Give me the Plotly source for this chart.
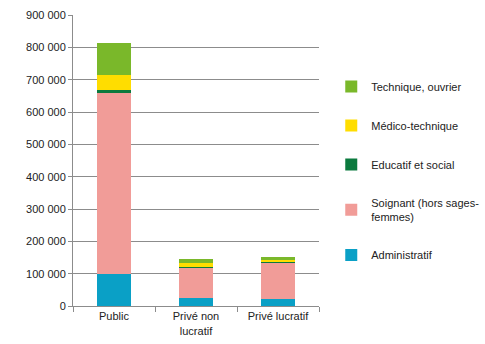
import plotly.graph_objects as go

categories = ["Public", "Privé non<br>lucratif", "Privé lucratif"]
administratif = [100000, 24000, 22000]
soignant = [558000, 94000, 113000]
educatif = [11000, 4000, 2000]
medico = [44000, 10000, 6000]
technique = [99000, 12000, 8000]

series = [
    ("Administratif", administratif, "#0aa0c6"),
    ("Soignant (hors sages-<br>femmes)", soignant, "#f19c98"),
    ("Educatif et social", educatif, "#0b7a3e"),
    ("Médico-technique", medico, "#ffdd00"),
    ("Technique, ouvrier", technique, "#7ab82a"),
]

fig = go.Figure()
for i, (name, vals, col) in enumerate(series):
    fig.add_trace(go.Bar(x=categories, y=vals, name=name, marker_color=col,
                         marker_line_width=0, legendgroup=str(i),
                         legendrank=100 - i))

tickvals = list(range(0, 900001, 100000))
ticktext = ["0"] + [f"{v//1000} 000" for v in tickvals[1:]]

fig.update_layout(
    width=485, height=344,
    barmode="stack", bargap=0.58,
    plot_bgcolor="white", paper_bgcolor="white",
    margin=dict(l=73, r=166, t=15, b=38),
    font=dict(family="Liberation Sans", size=11, color="#222"),
    legend=dict(xref="container", yref="container", x=0.683, y=1 - 72 / 344,
                xanchor="left", yanchor="top", maxheight=320,
                traceorder="grouped", tracegroupgap=20,
                font=dict(size=11), itemwidth=30),
    showlegend=True,
)
fig.update_yaxes(range=[0, 900000], tickvals=tickvals, ticktext=ticktext,
                 showgrid=True, gridcolor="#8c8c8c", gridwidth=1, automargin=False,
                 showline=True, linecolor="#8c8c8c", ticks="outside", ticklen=4,
                 tickcolor="#8c8c8c", zeroline=False)
fig.update_xaxes(showline=True, linecolor="#8c8c8c", ticks="outside", ticklen=5,
                 tickcolor="#8c8c8c", tickson="boundaries", automargin=False)

fig.write_html("out.html")
